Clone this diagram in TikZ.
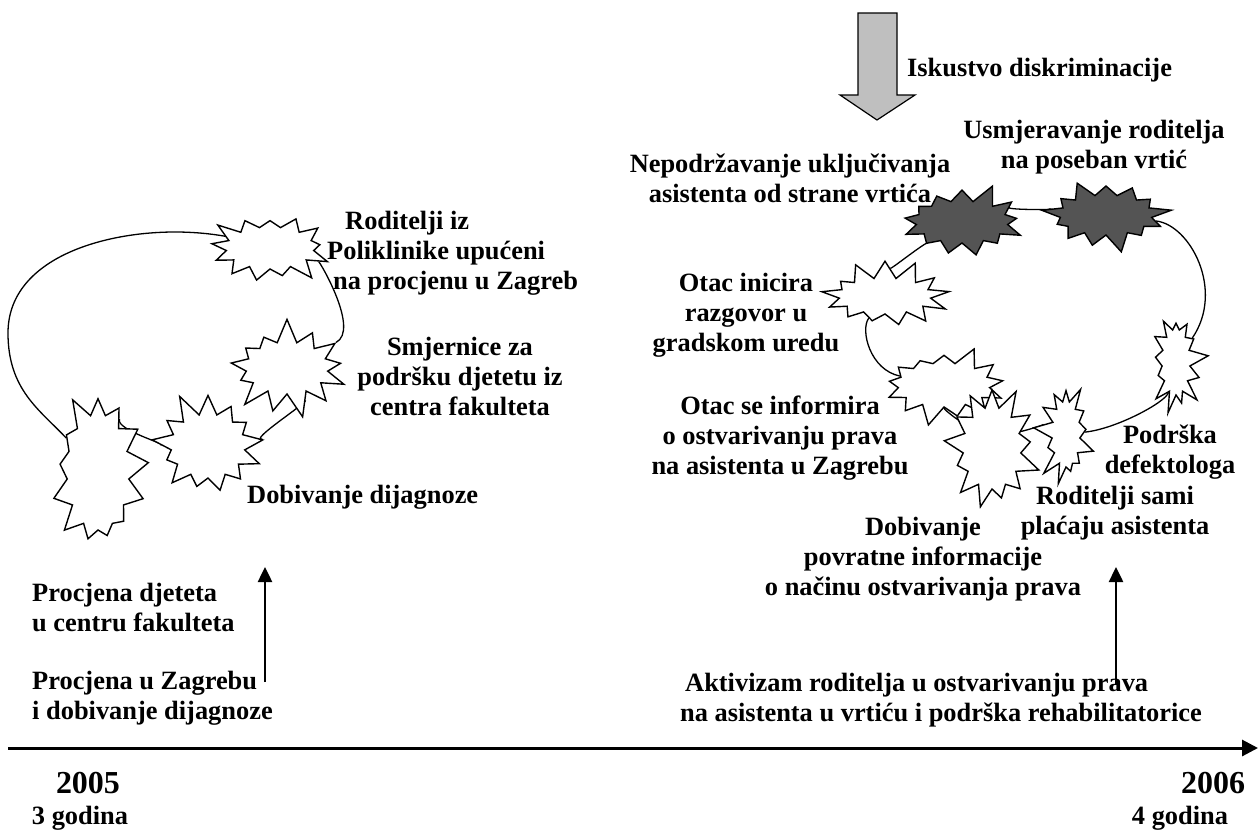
\documentclass[tikz,border=0pt]{standalone}
\usepackage{fontspec}
\setmainfont{Liberation Serif}
\usetikzlibrary{shapes.symbols,arrows.meta,backgrounds}

\begin{document}
\begin{tikzpicture}[
x=1pt,
y=-1pt,
every node/.style={
font=\fontsize{26.4}{30}\selectfont\bfseries,
inner sep=0pt
},
lbl/.style={align=center},
year/.style={font=\fontsize{32}{36}\selectfont\bfseries},
burst/.style={
starburst,
draw,
fill=white,
line width=1.4pt,
starburst points=13,
starburst point height=25pt
},
flat/.style={burst,starburst point height=20pt},
dark/.style={flat,fill=black!67},
link/.style={line width=1.3pt},
up/.style={-{Triangle[length=15pt,width=14pt]},line width=2.5pt},
axis/.style={-{Triangle[length=16pt,width=16pt]},line width=3pt}
]
\useasboundingbox (0,0) rectangle (1259,830);

% left loop
\node[flat,minimum width=128pt,minimum height=82pt,random starburst=3] (uputa) at (270,248) {};
\node[burst,minimum width=132pt,minimum height=102pt,random starburst=7] (smjer) at (287,368) {};
\node[burst,minimum width=124pt,minimum height=114pt,random starburst=11] (dijag) at (208,446) {};
\node[burst,minimum width=112pt,minimum height=166pt,random starburst=5] (procj) at (98,472) {};

% right loop
\node[dark,minimum width=132pt,minimum height=82pt,random starburst=2] (nepod) at (962,222) {};
\node[dark,minimum width=132pt,minimum height=80pt,random starburst=9] (usmj) at (1106,215) {};
\node[flat,minimum width=132pt,minimum height=76pt,random starburst=4] (inic) at (885,296) {};
\node[flat,minimum width=132pt,minimum height=84pt,random starburst=6] (inform) at (944,385) {};
\node[burst,minimum width=108pt,minimum height=132pt,random starburst=8] (povrat) at (992,448) {};
\node[flat,minimum width=68pt,minimum height=106pt,random starburst=12] (placa) at (1066,434) {};
\node[flat,minimum width=68pt,minimum height=106pt,random starburst=13] (defekt) at (1176,362) {};

\begin{scope}[on background layer]
\draw[link] (procj) .. controls (40,410) and (8,390) .. (8,333)
 .. controls (8,260) and (100,232) .. (175,232)
 .. controls (215,232) and (240,240) .. (uputa);
\draw[link] (uputa) .. controls (320,262) and (360,330) .. (smjer);
\draw[link] (smjer) .. controls (307,403) and (248,441) .. (dijag);
\draw[link] (procj) .. controls (115,430) and (170,445) .. (dijag);

\draw[link] (inic) .. controls (890,270) and (915,250) .. (nepod);
\draw[link] (nepod) .. controls (1000,210) and (1060,210) .. (usmj);
\draw[link] (usmj) .. controls (1190,225) and (1225,290) .. (defekt);
\draw[link] (defekt) .. controls (1166,402) and (1116,429) .. (placa);
\draw[link] (inic) .. controls (860,330) and (870,370) .. (inform);
\draw[link] (inform) .. controls (944,410) and (962,423) .. (povrat);
\draw[link] (povrat) .. controls (1020,432) and (1045,425) .. (placa);
\end{scope}

% gray arrow
\draw[fill=black!25,line width=1.2pt] (858,13) -- (897,13) -- (897,95) -- (915,95)
 -- (877,120) -- (840,95) -- (858,95) -- cycle;
\node[anchor=west] (iskus) at (907,70) {Iskustvo diskriminacije};

% labels
\node[lbl] (usmj-t) at (1094,147) {Usmjeravanje roditelja\\na poseban vrtić};
\node[lbl] (nepod-t) at (790,178) {Nepodržavanje uključivanja\\asistenta od strane vrtića};
\node[align=left,anchor=west] (uputa-t) at (327,253) {\hspace*{18pt}Roditelji iz\\Poliklinike upućeni\\\hspace*{6pt}na procjenu u Zagreb};
\node[lbl] (smjer-t) at (460,376) {Smjernice za\\podršku djetetu iz\\centra fakulteta};
\node[anchor=west] (dijag-t) at (247,497) {Dobivanje dijagnoze};
\node[align=left,anchor=west] (fak-t) at (32,607) {Procjena djeteta\\u centru fakulteta};
\node[align=left,anchor=west] (procj-t) at (32,698) {Procjena u Zagrebu\\i dobivanje dijagnoze};
\node[lbl] (inic-t) at (746,315) {Otac inicira\\razgovor u\\gradskom uredu};
\node[lbl] (inform-t) at (780,438) {Otac se informira\\o ostvarivanju prava\\na asistenta u Zagrebu};
\node[lbl] (defekt-t) at (1170,452) {Podrška\\defektologa};
\node[lbl] (placa-t) at (1115,513) {Roditelji sami\\plaćaju asistenta};
\node[lbl] (povrat-t) at (923,559) {Dobivanje\\povratne informacije\\o načinu ostvarivanja prava};
\node[align=left,anchor=west] (aktiv-t) at (680,700) {\hspace*{5pt}Aktivizam roditelja u ostvarivanju prava\\na asistenta u vrtiću i podrška rehabilitatorice};

% pointers
\coordinate (l0) at (265,682);
\coordinate (l1) at (265,567);
\coordinate (r0) at (1116,685);
\coordinate (r1) at (1116,567);
\draw[up] (l0) -- (l1);
\draw[up] (r0) -- (r1);

% time line
\coordinate (t0) at (8,748);
\coordinate (t1) at (1258,748);
\draw[axis] (t0) -- (t1);
\node[year] (y05) at (88,783) {2005};
\node (g05) at (80,818) {3 godina};
\node[year] (y06) at (1213,783) {2006};
\node (g06) at (1180,818) {4 godina};

\end{tikzpicture}
\end{document}
